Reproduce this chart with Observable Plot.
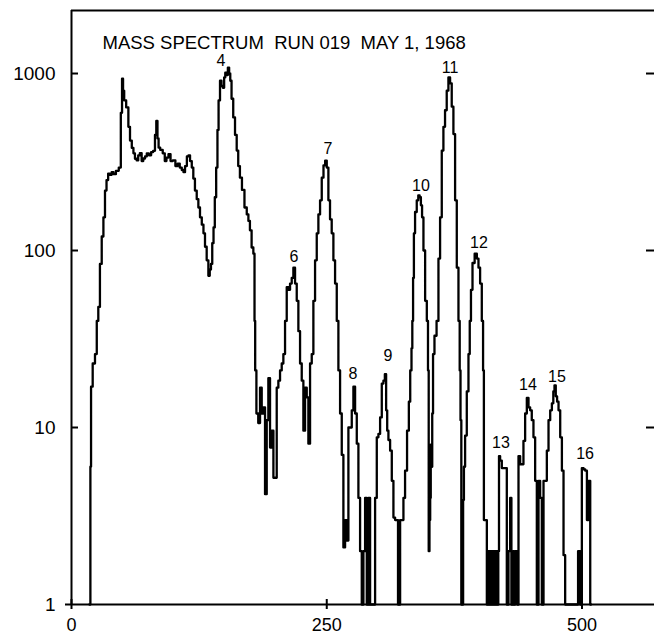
<!DOCTYPE html>
<html><head><meta charset="utf-8">
<script src="https://cdn.jsdelivr.net/npm/d3@7"></script>
<script src="https://cdn.jsdelivr.net/npm/@observablehq/plot@0.6"></script>
<style>
body{margin:0;background:#fff}
svg text{white-space:pre}
</style></head><body><div id="chart"></div>
<script>
const title = "MASS SPECTRUM  RUN 019  MAY 1, 1968";
const mass = [
17.5,18.2,18.8,19.5,22,24,25.5,27,28.7,30.5,32,33.6,35,36.8,38.5,40.2,42,45,47.6,49,50,51,52.2,54.9,56.5,58.1,60,61.3,63,64.7,66,67.9,69.5,71.1,73,74.5,77,79,81,82.5,83.6,84.8,85.8,88,90.7,92,94,96,98,100.5,103,105,107,109,110.4,112,114,115.2,117,118.6,120,121.8,123.5,125,126.7,128.5,130,131.5,133.3,134.8,136,137.2,138.5,139.7,141,142.4,143.5,144.6,146.3,147.5,149,150,151.2,152.5,153.8,155,156,157.5,159.3,161,162.6,164,165.9,168,170.8,172.5,174,175.5,177.3,178.9,
179.6,180.2,182,183.8,185.5,187.1,188.7,190.4,192,193.6,195.3,197,198.5,200.2,201.8,203.4,205.1,206.7,208.3,210,211.6,213.2,214.9,216.5,218.1,219.8,221.4,223,224.7,226.3,227.9,229.6,231.2,232.8,234.5,236.1,237.7,239.4,241,242.6,244.3,245.9,247.7,249.2,250.8,252.4,254,255.7,257.3,259,260.6,262.2,263.9,265.5,267.1,268.8,270.4,272,273.7,275.3,276.9,278.6,280.2,281.8,283.5,285.1,286.7,288.4,290,291.6,293.3,296.5,298.2,299.8,301.4,303.1,304.7,306.3,307.5,308.8,309.6,311.2,312.9,314.5,316.1,317.8,319.4,320.2,321,322.7,324.3,325.9,327.5,329.8,331,332.5,
333.5,334.1,335,335.7,337.3,339,340.3,341.6,342.8,343.9,345.5,347.2,348.8,349.5,350.2,351,351.6,352.1,352.9,353.7,354.5,356.5,358.6,360.2,361.8,363.5,365,366.7,368.3,370,371.6,373.2,374.9,376.5,378.2,379.8,380.6,381.4,382.2,383.1,384,384.7,386.3,388,389.6,390.5,392,393.5,396.2,397.8,399.4,401,402.7,403.5,404.3,406,407.6,
408.4,409.2,410,411,411.8,412.6,413.4,414.3,415.1,416,416.8,417.6,418.4,419,420.6,422.3,423.9,425.5,427.2,428.8,430.4,431.3,432.1,433,434,435,436,437,438.6,440.2,441.8,443.5,445.1,446.8,448.4,450,451.6,453.3,454.9,456.6,458.2,459.8,461.5,463.1,464.7,466.4,468,469.7,471.3,472.5,473.6,475,476.2,477.8,479.5,481.1,482.7,484.3,495.8,496.5,497.3,499,500.7,502.3,504,505.6,507.2,508.9
];
const counts = [
1,1,6,17,23,26,40,48,84,120,154,218,250,272,268,277,270,282,294,600,935,800,705,643,500,418,380,354,330,323,345,355,320,331,340,354,345,360,366,450,540,430,381,370,354,320,335,350,320,323,300,310,294,285,277,300,340,345,320,294,255,218,195,175,154,140,125,105,88,72,78,84,110,135,200,294,480,705,910,850,830,950,1010,980,1080,1000,910,720,565,450,367,300,258,220,175,160,147,130,104,96,
40,21,12,10.6,16.8,12,13,4.2,11,19,7.7,9.6,5.2,5.2,16.8,18.4,21,23,26,40,62,60,65,70,80,65,52,35,23,18.4,9.6,16.8,14.8,8.1,23,26,52,88,125,160,192,258,303,322,294,192,150,125,88,65,40,21,12,7,2.1,3,2.3,10,10,12.5,17,12,8.1,4,2,1,2,4,1,4,1,1,4,8.8,9.2,11.4,17.7,18.4,20,12.5,9.6,8.5,7.4,5,3.1,3,3,1,1,3,3,4,5.7,9.6,14,21,
28,40,70,125,165,192,205,200,180,154,100,52,40,21,2,3,4,8,6,12,26,33,40,90,154,367,500,620,800,950,880,650,455,192,80,40,21,11,1,1,3.9,6,9,16,26,40,60,85,96,90,80,65,40,21,3,3,1,
2,1,2,1,2,1,2,1,2,1,2,1,2,6.9,6.5,5.9,5.9,5.9,1,2,4,1,1,2,1,2,2,1,6.9,6.2,6.2,8.4,12,14.7,13,12.5,11,8.8,5,1,5,4,1,5,5,7.4,11,12.5,13.7,16,17.3,15,14,12.5,8.8,5.7,1.9,1,1,2,2,1,5.9,5.8,5.7,3,5,1
];
const peakIds = ["4","6","7","8","9","10","11","12","13","14","15","16"];
const peakMass = [146.3,217.8,251.1,275.6,309.9,342.3,370.7,399.1,420.6,447,475.5,503];
const peakLabelCounts = [1180,92.5,377,20,25.5,233,1070,111,8.2,17.5,19.2,7.1];
const yTicks = [1,10,100,1000];
const yInnerTicks = [10,100,1000];
const xTicks = [0,250,500];
const xDomain = [0,571];
const yDomain = [1,2270];

const spectrum = mass.map((m,i)=>({mass:m, counts:counts[i]}));
const peaks = peakIds.map((id,i)=>({id, mass:peakMass[i], counts:peakLabelCounts[i]}));
const font = "'Liberation Sans', Arial, sans-serif";

const chart = Plot.plot({
  width:654, height:638,
  marginLeft:71, marginRight:0, marginTop:10, marginBottom:34,
  style:{fontFamily:font, background:"#fff", color:"#000", overflow:"visible"},
  x:{domain:xDomain, axis:null, label:null},
  y:{type:"log", domain:yDomain, axis:null, label:null},
  marks:[
    Plot.ruleX([xDomain[0]], {stroke:"#000", strokeWidth:2}),
    Plot.ruleY(yDomain, {stroke:"#000", strokeWidth:2}),
    Plot.axisY({ticks:yTicks, anchor:"left", tickSize:0, tickPadding:16, tickFormat:d=>String(d), fontSize:19, label:null}),
    Plot.axisY({ticks:yInnerTicks, anchor:"left", tickSize:-7, fill:"none", strokeWidth:2, label:null}),
    Plot.axisY({ticks:[1], anchor:"left", tickSize:6, fill:"none", strokeWidth:2, label:null}),
    Plot.axisY({ticks:yInnerTicks, anchor:"right", tickSize:-9, fill:"none", strokeWidth:2, label:null}),
    Plot.axisX({ticks:xTicks, anchor:"bottom", tickSize:5, tickPadding:9, tickFormat:d=>String(d), fontSize:18, strokeWidth:2, label:null}),
    Plot.axisX({ticks:xTicks, anchor:"bottom", tickSize:-5, fill:"none", strokeWidth:2, label:null}),
    Plot.line(spectrum, {x:"mass", y:"counts", curve:"step", stroke:"#000", strokeWidth:2.3}),
    Plot.text(peaks, {x:"mass", y:"counts", text:"id", fontSize:16, fill:"#000"}),
    Plot.text([title], {text:d=>d, frameAnchor:"top-left", dx:31, dy:32.5, textAnchor:"start", lineAnchor:"middle", fontSize:18.5, fill:"#000"})
  ]
});
document.getElementById("chart").append(chart);
</script>
</body></html>
